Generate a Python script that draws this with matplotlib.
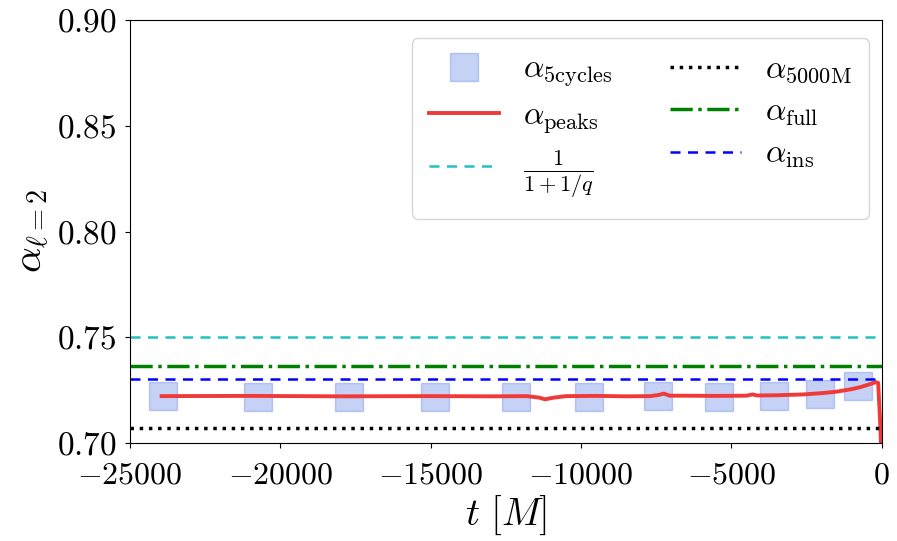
import matplotlib as mpl
mpl.use('Agg')
import matplotlib.pyplot as plt

plt.rcParams['font.family'] = 'serif'
plt.rcParams['font.serif'] = ['cmr10', 'DejaVu Serif']
plt.rcParams['mathtext.fontset'] = 'cm'
plt.rcParams['axes.formatter.use_mathtext'] = True
plt.rcParams['axes.unicode_minus'] = True

# alpha from 5-cycle windows
t_cycles = [-23900, -20730, -17720, -14860, -12180, -9720, -7450, -5400, -3590, -2040, -800]
a_cycles = [0.7221, 0.7219, 0.7219, 0.7219, 0.7217, 0.7217, 0.7223, 0.7218, 0.7221, 0.7230, 0.7269]

# alpha from peaks
t_peaks = [-23950, -21000, -18000, -15000, -13000, -11800, -11400, -11200, -10900, -10500,
           -9500, -8500, -7700, -7400, -7250, -7050, -6600, -5500, -4500, -4300, -4150,
           -3500, -2600, -2000, -1500, -1000, -700, -450, -300, -200, -120, -60, 0]
a_peaks = [0.7222, 0.7223, 0.7221, 0.7222, 0.7221, 0.7222, 0.7215, 0.7207, 0.7215, 0.7222,
           0.7223, 0.7221, 0.7222, 0.7228, 0.7234, 0.7224, 0.7224, 0.7223, 0.7224, 0.7230, 0.7225,
           0.7226, 0.7230, 0.7236, 0.7243, 0.7255, 0.7265, 0.7276, 0.7283, 0.7288, 0.7285, 0.712, 0.69]

a_5000M = 0.7071
a_full = 0.7365
a_ins = 0.7305
a_q = 0.75

fig = plt.figure(figsize=(8.97, 5.41), dpi=100)
ax = fig.add_axes([0.145, 0.181, 0.838, 0.782])

h1, = ax.plot(t_cycles, a_cycles, 's', ms=20, color='royalblue', alpha=0.3,
              mec='royalblue', label=r'$\alpha_{\rm 5cycles}$')
h2, = ax.plot(t_peaks, a_peaks, '-', color='#f03a3a', lw=2.8, label=r'$\alpha_{\rm peaks}$')
h3 = ax.axhline(a_q, color='#22c0c0', ls='--', lw=1.8, dashes=(4, 3), label=r'$\frac{1}{1+1/q}$')
h4 = ax.axhline(a_5000M, color='k', ls=':', lw=2.5, label=r'$\alpha_{\rm 5000M}$')
h5 = ax.axhline(a_full, color='g', ls='-.', lw=2.5, label=r'$\alpha_{\rm full}$')
h6 = ax.axhline(a_ins, color='b', ls='--', lw=1.8, dashes=(4, 3), label=r'$\alpha_{\rm ins}$')

ax.set_xlim(-25000, 0)
ax.set_ylim(0.70, 0.90)
ax.set_yticks([0.70, 0.75, 0.80, 0.85, 0.90])
ax.set_xticks([-25000, -20000, -15000, -10000, -5000, 0])
ax.tick_params(axis='x', labelsize=23, pad=10)
ax.tick_params(axis='y', labelsize=24, pad=6)
ax.set_xlabel(r'$t\ [M]$', fontsize=28, labelpad=3)
ax.set_ylabel(r'$\alpha_{\ell=2}$', fontsize=29, labelpad=4)

ax.legend(handles=[h1, h2, h3, h4, h5, h6], ncol=2, fontsize=23, loc='upper right',
          handlelength=2.2, handletextpad=0.75, columnspacing=1.8, labelspacing=0.4,
          borderpad=0.55, borderaxespad=0, bbox_to_anchor=(0.983, 0.958))

fig.savefig('out.png', dpi=100)
